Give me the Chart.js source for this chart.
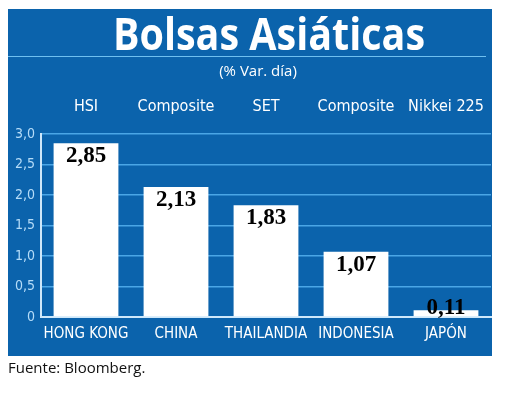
<!DOCTYPE html>
<html>
<head>
<meta charset="utf-8">
<script src="https://cdn.jsdelivr.net/npm/chart.js@4"></script>
<style>
  html, body { margin: 0; padding: 0; background: #fff; }
  #wrap { position: relative; width: 520px; height: 404px; }
</style>
</head>
<body>
<div id="wrap"><canvas id="chart" width="520" height="404"></canvas></div>
<script>
// datos
const countries = ['HONG KONG', 'CHINA', 'THAILANDIA', 'INDONESIA', 'JAPÓN'];
const indices = ['HSI', 'Composite', 'SET', 'Composite', 'Nikkei 225'];
const values = [2.85, 2.13, 1.83, 1.07, 0.11];
const yTicks = [0, 0.5, 1, 1.5, 2, 2.5, 3];

const BLUE = '#0b63ac';
const NARROW = '"Liberation Sans Narrow", "DejaVu Sans Condensed", sans-serif';

function fmt(v){
    return v === 0 ? '0' : v.toFixed(1).replace('.', ',');
}

// fondo azul, titulo, fuente
const frame = {
    id: 'frame',
    beforeDraw(chart){
        const c = chart.ctx;
        c.save();
        c.fillStyle = '#fff';
        c.fillRect(0, 0, chart.width, chart.height);
        c.fillStyle = BLUE;
        c.fillRect(8, 9, 484, 347);

        // titulo
        c.fillStyle = '#fff';
        c.font = 'bold 45px "Open Sans", sans-serif';
        c.textBaseline = 'alphabetic';
        c.textAlign = 'center';
        const t = 'Bolsas Asiáticas';
        const w = c.measureText(t).width;
        c.save();
        c.translate(269, 50);
        c.scale(312 / w, 1);
        c.fillText(t, 0, 0);
        c.restore();

        c.strokeStyle = '#6fc0f0';
        c.lineWidth = 1;
        c.beginPath();
        c.moveTo(8, 56.5);
        c.lineTo(486, 56.5);
        c.stroke();

        c.font = '15px "Open Sans", sans-serif';
        c.textBaseline = 'middle';
        c.fillText('(% Var. día)', 258, 72);

        c.fillStyle = '#111';
        c.textAlign = 'left';
        c.font = '15px "Open Sans", sans-serif';
        c.fillText('Fuente: Bloomberg.', 8, 369);
        c.restore();
    },
    afterDatasetsDraw(chart){
        const c = chart.ctx;
        const meta = chart.getDatasetMeta(0);
        c.save();
        c.fillStyle = '#000';
        c.font = 'bold 23px "Liberation Serif", serif';
        c.textAlign = 'center';
        c.textBaseline = 'middle';
        meta.data.forEach((bar, i) => {
            let y = Math.min(bar.y + 13, bar.base - 8);
            c.fillText(values[i].toFixed(2).replace('.', ','), bar.x, y);
        });
        c.restore();
    }
};

new Chart(document.getElementById('chart'), {
    type: 'bar',
    data: {
        labels: countries,
        datasets: [{
            data: values,
            backgroundColor: '#ffffff',
            borderWidth: 0,
            categoryPercentage: 0.72,
            barPercentage: 1
        }]
    },
    options: {
        responsive: false,
        animation: false,
        layout: { padding: { left: 8, right: 29, top: 90, bottom: 57 } },
        plugins: { legend: { display: false }, tooltip: { enabled: false } },
        scales: {
            x: {
                position: 'bottom',
                grid: { display: false, drawTicks: false },
                border: { color: '#cfe8fa', width: 2 },
                ticks: { color: '#fff', font: { family: NARROW, size: 15 }, padding: 8, maxRotation: 0 },
                afterFit(s){ s.height = 30; }
            },
            x2: {
                position: 'top',
                labels: indices,
                grid: { display: false, drawTicks: false },
                border: { display: false },
                ticks: { color: '#fff', font: { family: NARROW, size: 16 }, padding: 18, maxRotation: 0 },
                afterFit(s){ s.height = 44; }
            },
            y: {
                min: 0,
                max: 3,
                afterBuildTicks(s){ s.ticks = yTicks.map(v => ({ value: v })); },
                grid: { color: '#4aa6e6', lineWidth: 1.5, drawTicks: false },
                border: { color: '#cfe8fa', width: 2 },
                ticks: { color: '#b5dcf8', font: { family: NARROW, size: 14 }, padding: 6, callback: v => fmt(v) },
                afterFit(s){ s.width = 33; }
            }
        }
    },
    plugins: [frame]
});
</script>
</body>
</html>
